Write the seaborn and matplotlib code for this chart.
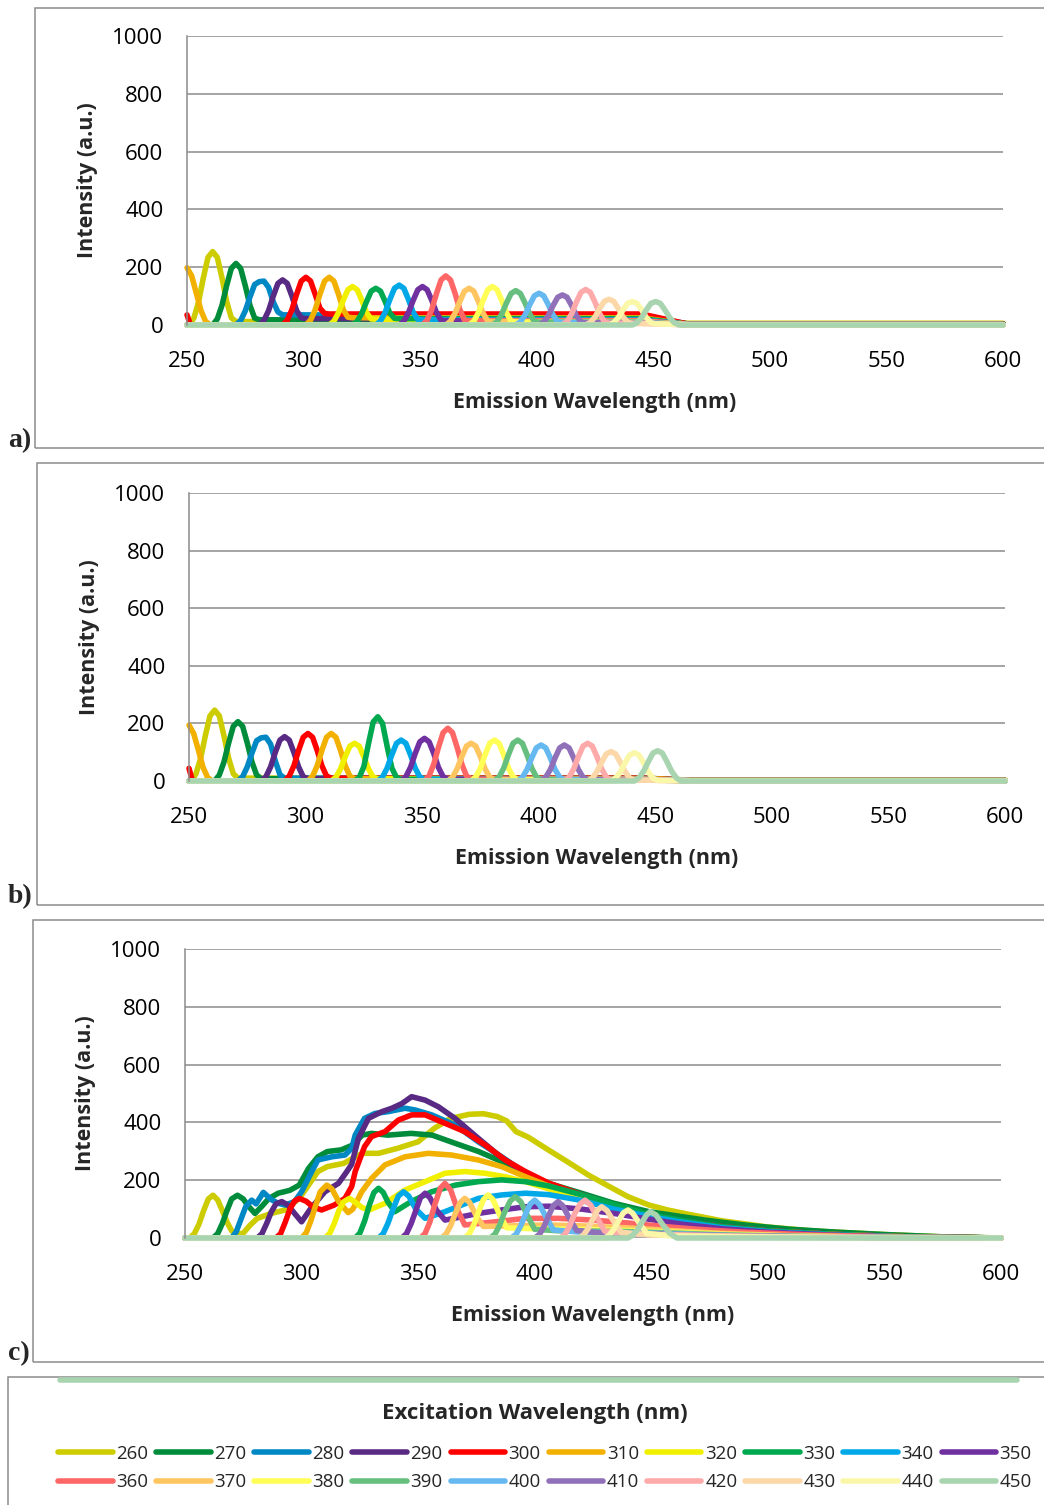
import pandas as pd
import matplotlib
matplotlib.use("Agg")
import matplotlib.pyplot as plt
from matplotlib.lines import Line2D
from matplotlib.patches import Rectangle
import seaborn as sns

# excitation wavelengths (series) and their Excel-like colours
excitation = [260, 270, 280, 290, 300, 310, 320, 330, 340, 350,
              360, 370, 380, 390, 400, 410, 420, 430, 440, 450]
colors = ["#CCCC00", "#008C3A", "#0088C4", "#582A84", "#FF0000",
          "#F2B100", "#F0F000", "#00A850", "#00A8E8", "#7030A0",
          "#FF6666", "#FFC560", "#FFFF55", "#66BF7F", "#66B8F0",
          "#9070B8", "#FFAAAA", "#FCD8A8", "#FAF8A8", "#A8D4B0"]

# panels a) and b): scatter peaks sampled at excitation + offset (nm)
peak_offsets = [-9, -7, -5, -3, -1, 1, 3, 5, 7, 9, 11]
tail_x = [445, 465, 600]

peaks_a = [
    [0, 25, 81, 163, 234, 254, 234, 163, 81, 25, 12],
    [0, 21, 68, 136, 196, 213, 196, 136, 68, 24, 18],
    [0, 15, 49, 97, 140, 150, 152, 130, 80, 45, 35],
    [0, 16, 50, 100, 144, 156, 144, 100, 50, 25, 22],
    [0, 17, 53, 106, 152, 165, 152, 106, 58, 40, 38],
    [0, 17, 53, 106, 152, 165, 152, 106, 53, 27, 25],
    [0, 13, 43, 85, 122, 133, 122, 85, 43, 21, 20],
    [0, 13, 41, 81, 117, 127, 117, 81, 41, 23, 22],
    [0, 14, 44, 88, 127, 138, 127, 88, 44, 19, 18],
    [0, 13, 43, 85, 122, 133, 122, 85, 43, 16, 15],
    [0, 17, 54, 109, 156, 170, 156, 109, 54, 17, 15],
    [0, 13, 41, 81, 117, 127, 117, 81, 41, 13, 12],
    [0, 13, 43, 85, 122, 133, 122, 85, 43, 13, 10],
    [0, 12, 38, 76, 109, 119, 109, 76, 38, 12, 10],
    [0, 11, 35, 70, 101, 110, 101, 70, 35, 11, 8],
    [0, 10, 33, 67, 96, 104, 96, 67, 33, 10, 8],
    [0, 12, 39, 79, 113, 123, 113, 79, 39, 12, 6],
    [0, 9, 28, 57, 82, 89, 82, 57, 28, 9, 5],
    [0, 8, 26, 52, 75, 81, 75, 52, 26, 8, 4],
    [0, 8, 26, 52, 75, 81, 75, 52, 26, 8, 0],
]
tail_a = [12, 18, 35, 22, 38, 25, 20, 22, 18, 15, 15, 12, 10, 10, 8, 8, 6, 5, 4, 0]
end_a = [6, 4, 3, 3, 3, 2, 2, 2, 2, 2, 2, 1, 1, 1, 1, 1, 1, 1, 1, 0]

peaks_b = [
    [0, 25, 79, 157, 226, 246, 226, 157, 79, 25, 10],
    [0, 21, 66, 132, 190, 206, 190, 132, 66, 21, 8],
    [0, 15, 49, 97, 140, 150, 152, 128, 70, 22, 10],
    [0, 15, 49, 99, 142, 154, 142, 99, 49, 15, 8],
    [0, 17, 53, 106, 152, 165, 152, 106, 53, 17, 10],
    [0, 17, 53, 106, 152, 165, 152, 106, 53, 17, 8],
    [0, 13, 42, 84, 121, 131, 121, 84, 42, 13, 8],
    [0, 12, 50, 130, 205, 223, 200, 120, 45, 12, 6],
    [0, 14, 45, 91, 131, 142, 131, 91, 45, 14, 6],
    [0, 15, 47, 95, 136, 148, 136, 95, 47, 15, 6],
    [0, 18, 59, 117, 168, 183, 168, 117, 59, 18, 6],
    [0, 13, 42, 84, 121, 131, 121, 84, 42, 13, 5],
    [0, 14, 45, 91, 131, 142, 131, 91, 45, 14, 5],
    [0, 14, 45, 91, 131, 142, 131, 91, 45, 14, 5],
    [0, 13, 40, 80, 115, 125, 115, 80, 40, 13, 4],
    [0, 13, 40, 80, 115, 125, 115, 80, 40, 13, 4],
    [0, 13, 42, 84, 121, 131, 121, 84, 42, 13, 3],
    [0, 10, 33, 65, 94, 102, 94, 65, 33, 10, 3],
    [0, 10, 31, 63, 90, 98, 90, 63, 31, 10, 2],
    [0, 11, 34, 67, 97, 105, 97, 67, 34, 11, 0],
]
tail_b = [10, 8, 10, 8, 10, 8, 8, 6, 6, 6, 6, 5, 5, 5, 4, 4, 3, 3, 2, 0]
end_b = [3, 2, 2, 2, 2, 2, 1, 1, 1, 1, 1, 1, 1, 1, 1, 1, 1, 1, 1, 0]

# signal already present at the 250 nm start of panels a) and b)
edge_x = [250, 252, 254, 256, 258, 260]
edge_310_a = [198, 170, 110, 50, 12, 0]
edge_310_b = [194, 165, 108, 48, 12, 0]
red_edge_x = [250, 251.5]
edge_300_a = [35, 0]
edge_300_b = [44, 0]

# panel c): full spectra
c260_x = [252, 254, 256, 258, 260, 262, 264, 266, 268, 270, 272, 275, 278, 281, 287, 293, 299, 303, 307, 311,
          318, 326, 333, 341, 350, 357, 364, 372, 378, 384, 388, 392, 397, 406, 414, 423, 432, 440, 449, 457,
          466, 480, 500, 520, 550, 575, 600]
c260_y = [0, 15, 48, 95, 135, 148, 132, 95, 55, 25, 12, 17, 45, 68, 85, 97, 137, 183, 230, 247,
          258, 293, 293, 310, 333, 380, 414, 428, 430, 420, 405, 368, 350, 304, 264, 218, 178, 143, 114, 97,
          82, 60, 38, 24, 12, 4, 0]
c270_x = [262, 264, 266, 268, 270, 272.5, 275, 277, 280, 283, 286, 290, 295, 299, 303, 307, 311, 317, 322, 326,
          330, 337, 347, 356, 364, 376, 386, 396, 406, 420, 434, 449, 463, 473, 490, 510, 530, 550, 575, 600]
c270_y = [0, 15, 50, 95, 135, 148, 135, 112, 85, 110, 137, 155, 165, 183, 241, 281, 299, 305, 322, 356,
          362, 356, 362, 356, 333, 299, 264, 224, 189, 155, 120, 91, 74, 62, 45, 30, 20, 12, 4, 0]
c280_x = [270, 272, 274, 276, 278.6, 280.5, 283.6, 287, 290, 293, 297, 300, 304, 307, 313, 318.6, 321.5, 323, 327, 331.5,
          337, 344.4, 348.7, 355.8, 365.8, 375.8, 385.8, 396, 406, 420, 434, 449, 463, 480, 500, 530, 560, 600]
c280_y = [0, 22, 65, 108, 131, 118, 158, 133, 120, 114, 126, 160, 224, 270, 281, 287, 310, 356, 414, 431,
          437, 449, 443, 426, 391, 333, 281, 225, 185, 150, 112, 80, 60, 40, 25, 12, 4, 0]
c290_x = [281, 283, 285, 287, 289, 291.5, 294, 297, 300, 304, 310, 315.8, 319, 321.5, 324.4, 328.7, 334.4, 338.7, 343, 347.2,
          353, 358.7, 365.8, 375.8, 384.4, 391.6, 396, 406, 420, 434, 449, 463, 480, 500, 530, 560, 600]
c290_y = [0, 15, 50, 90, 118, 126, 115, 85, 56, 103, 160, 189, 225, 255, 345, 414, 437, 449, 465, 489,
          477, 454, 414, 345, 287, 247, 224, 185, 150, 112, 80, 58, 40, 25, 12, 4, 0]
c300_x = [289, 291, 293, 295, 297, 299, 302, 305, 308.6, 314, 318.6, 321.5, 323, 327, 330, 335.8, 341.5, 347.2, 353, 361.5,
          370, 378.7, 387.3, 396, 406, 420, 434, 449, 463, 480, 500, 530, 560, 600]
c300_y = [0, 15, 55, 100, 128, 137, 127, 107, 97, 114, 137, 178, 230, 316, 351, 368, 408, 426, 426, 397,
          368, 322, 270, 230, 190, 150, 112, 80, 58, 40, 25, 12, 4, 0]
c310_x = [300, 302, 304, 306, 308, 310.8, 313, 316, 320, 322, 325.8, 330, 335.8, 344.4, 354.4, 364.4, 375.8, 385.8, 396, 406,
          420, 434, 449, 463, 480, 500, 530, 560, 600]
c310_y = [0, 18, 60, 112, 160, 183, 170, 125, 88, 100, 160, 206, 253, 281, 293, 287, 270, 247, 212, 180,
          140, 105, 75, 55, 38, 24, 12, 4, 0]
c320_x = [310, 312, 314, 316, 318, 320.5, 323, 326, 329, 335.8, 344.4, 353, 361.5, 370, 378.7, 387.3, 396, 406, 420, 434,
          449, 463, 480, 500, 530, 560, 600]
c320_y = [0, 15, 50, 95, 125, 137, 124, 105, 97, 120, 166, 195, 224, 230, 224, 212, 195, 170, 135, 100,
          72, 52, 36, 22, 10, 3, 0]
c330_x = [323, 325, 327, 329, 331, 333, 335, 337, 340, 347, 355.8, 366, 375.8, 385.8, 396, 406, 420, 434, 449, 463,
          480, 500, 530, 560, 600]
c330_y = [0, 17, 58, 112, 157, 172, 158, 125, 91, 126, 160, 183, 195, 201, 195, 180, 150, 115, 82, 60,
          40, 25, 12, 4, 0]
c340_x = [333, 335, 337, 339, 341.5, 343.7, 346, 349, 353, 361.5, 375.8, 385.8, 396, 406, 420, 434, 449, 463, 480, 500,
          530, 560, 600]
c340_y = [0, 15, 50, 95, 145, 160, 145, 100, 68, 91, 137, 149, 155, 150, 130, 100, 75, 55, 36, 22,
          10, 3, 0]
c350_x = [343, 345, 347, 349, 351, 353, 355, 358, 361.5, 375.8, 385.8, 396, 406, 420, 434, 449, 463, 480, 500, 530,
          560, 600]
c350_y = [0, 15, 50, 95, 140, 155, 140, 95, 62, 85, 97, 108, 110, 100, 85, 65, 48, 32, 20, 9,
          3, 0]
c360_x = [351, 353, 355, 357, 359.5, 361.5, 364, 367, 370, 383, 396, 410, 425, 440, 455, 470, 490, 520, 560, 600]
c360_y = [0, 16, 55, 112, 172, 189, 165, 95, 45, 56, 68, 68, 62, 52, 40, 30, 20, 10, 3, 0]
c370_x = [360, 362, 364, 366, 368, 370, 372, 375, 378, 390, 405, 420, 440, 460, 480, 510, 550, 600]
c370_y = [0, 14, 44, 86, 122, 137, 124, 75, 40, 42, 45, 42, 35, 25, 16, 8, 2, 0]
c380_x = [370, 372, 374, 376, 378, 380, 382, 385, 388, 400, 420, 440, 460, 480, 510, 550, 600]
c380_y = [0, 15, 48, 92, 133, 149, 134, 80, 35, 32, 30, 26, 20, 13, 7, 2, 0]
c390_x = [381, 383, 385, 387, 389.5, 391.6, 394, 397, 400, 410, 425, 440, 460, 480, 510, 550, 600]
c390_y = [0, 14, 45, 88, 128, 143, 126, 75, 30, 25, 24, 22, 17, 11, 6, 2, 0]
c400_x = [390, 392, 394, 396, 398, 400, 402, 405, 408, 420, 440, 460, 480, 510, 550, 600]
c400_y = [0, 13, 42, 82, 117, 131, 116, 70, 28, 20, 18, 14, 9, 5, 2, 0]
c410_x = [400, 402, 404, 406, 408, 410, 412, 415, 418, 430, 450, 470, 490, 520, 560, 600]
c410_y = [0, 12, 40, 78, 112, 126, 112, 66, 26, 16, 14, 10, 7, 4, 1, 0]
c420_x = [411, 413, 415, 417, 419.5, 421.6, 424, 427, 430, 440, 460, 480, 510, 550, 600]
c420_y = [0, 13, 42, 82, 118, 131, 114, 66, 24, 14, 11, 7, 4, 1, 0]
c430_x = [419, 421, 423, 425, 427, 428.7, 431, 434, 437, 450, 470, 490, 520, 560, 600]
c430_y = [0, 11, 34, 66, 97, 108, 95, 56, 20, 10, 8, 5, 3, 1, 0]
c440_x = [430, 432, 434, 436, 438, 440, 442, 445, 448, 460, 480, 510, 550, 600]
c440_y = [0, 10, 31, 60, 87, 97, 86, 50, 16, 6, 4, 2, 1, 0]
c450_x = [250, 440, 442, 444, 446, 448, 449.5, 452, 455, 458, 461, 600]
c450_y = [0, 0, 9, 28, 55, 80, 91, 80, 45, 16, 0, 0]

c_series = [(c260_x, c260_y), (c270_x, c270_y), (c280_x, c280_y), (c290_x, c290_y),
            (c300_x, c300_y), (c310_x, c310_y), (c320_x, c320_y), (c330_x, c330_y),
            (c340_x, c340_y), (c350_x, c350_y), (c360_x, c360_y), (c370_x, c370_y),
            (c380_x, c380_y), (c390_x, c390_y), (c400_x, c400_y), (c410_x, c410_y),
            (c420_x, c420_y), (c430_x, c430_y), (c440_x, c440_y), (c450_x, c450_y)]

W, H = 1044, 1505
GRAY = "#8C8C8C"
LW = 4.0


def frame(ex, xs, ys):
    xs, ys = list(xs), list(ys)
    if xs[0] > 250:
        xs.insert(0, 250)
        ys.insert(0, 0)
    if xs[-1] < 600:
        xs.append(600)
        ys.append(0)
    return pd.DataFrame({"Emission": xs, "Intensity": ys, "Excitation": ex})


def scatter_panel(peaks, tails, ends, edges):
    parts = []
    for ex, row, t, e in zip(excitation, peaks, tails, ends):
        xs = [ex + o for o in peak_offsets]
        ys = list(row)
        for tx, ty in zip(tail_x, [t, e, e]):
            if tx > xs[-1]:
                xs.append(tx)
                ys.append(ty)
        if ex in edges:
            lead_x, lead_y = edges[ex]
            xs = list(lead_x) + xs
            ys = list(lead_y) + ys
        parts.append(frame(ex, xs, ys))
    return pd.concat(parts, ignore_index=True)


df_a = scatter_panel(peaks_a, tail_a, end_a,
                     {300: (red_edge_x, edge_300_a), 310: (edge_x, edge_310_a)})
df_b = scatter_panel(peaks_b, tail_b, end_b,
                     {300: (red_edge_x, edge_300_b), 310: (edge_x, edge_310_b)})
df_c = pd.concat([frame(ex, xs, ys) for ex, (xs, ys) in zip(excitation, c_series)],
                 ignore_index=True)

sns.set_style("white")
plt.rcParams["font.family"] = ["Open Sans", "DejaVu Sans"]

fig = plt.figure(figsize=(W / 100, H / 100), dpi=100)

# outer chart frames (px: left, top, bottom), right edge off the image
for x0, y0, y1 in [(35, 8, 448), (37, 463, 905), (33, 920, 1362), (8, 1377, 1520)]:
    fig.add_artist(Rectangle((x0 / W, 1 - y1 / H), (1050 - x0) / W, (y1 - y0) / H,
                             transform=fig.transFigure, fill=False, ec=GRAY, lw=1.1))

palette = dict(zip(excitation, colors))
panels = [(df_a, 187, 36, 325, "a)", 441),
          (df_b, 189, 493, 781, "b)", 897),
          (df_c, 185, 949, 1238, "c)", 1354)]

for df, left, top, bottom, tag, tag_y in panels:
    ax = fig.add_axes([left / W, 1 - bottom / H, 816 / W, (bottom - top) / H])
    sns.lineplot(data=df, x="Emission", y="Intensity", hue="Excitation",
                 hue_order=excitation, palette=palette, estimator=None, sort=False,
                 linewidth=LW, legend=False, ax=ax, clip_on=False,
                 solid_capstyle="round", solid_joinstyle="round")
    ax.set_xlim(250, 600)
    ax.set_ylim(0, 1000)
    ax.set_xticks(range(250, 601, 50))
    ax.set_yticks(range(0, 1001, 200))
    ax.grid(axis="y", color=GRAY, lw=1.1)
    ax.grid(axis="x", visible=False)
    ax.set_axisbelow(True)
    for s in ["top", "right", "bottom"]:
        ax.spines[s].set_visible(False)
    ax.spines["left"].set_color(GRAY)
    ax.spines["left"].set_linewidth(1.1)
    ax.tick_params(axis="both", length=0, labelsize=16, colors="black")
    ax.tick_params(axis="x", pad=19)
    ax.tick_params(axis="y", pad=17)
    ax.set_xlabel("Emission Wavelength (nm)", fontsize=15.5, fontweight="bold", labelpad=14)
    ax.set_ylabel("Intensity (a.u.)", fontsize=15.5, fontweight="bold", labelpad=10)
    fig.text(8 / W, 1 - tag_y / H, tag, family="Liberation Serif", fontweight="bold",
             fontsize=20, va="center", ha="left")

# stray series line along the top of the legend box
fig.add_artist(Line2D([60 / W, 1017 / W], [1 - 1379.5 / H] * 2, color=colors[-1],
                      lw=LW, transform=fig.transFigure))

fig.text(535 / W, 1 - 1413 / H, "Excitation Wavelength (nm)", fontsize=16,
         fontweight="bold", ha="center", va="center")

# legend: row 1 = 260..350, row 2 = 360..450 (matplotlib fills column-wise)
order = []
for k in range(10):
    order += [k, k + 10]
handles = [Line2D([], [], color=colors[i], lw=LW, solid_capstyle="round") for i in order]
labels = [str(excitation[i]) for i in order]
fig.legend(handles, labels, loc="center", bbox_to_anchor=(545 / W, 1 - 1468 / H),
           ncol=10, frameon=False, fontsize=13.5, handlelength=2.9, handletextpad=0.2,
           columnspacing=0.42, labelspacing=0.55, borderpad=0)

fig.savefig("out.png", dpi=100)
